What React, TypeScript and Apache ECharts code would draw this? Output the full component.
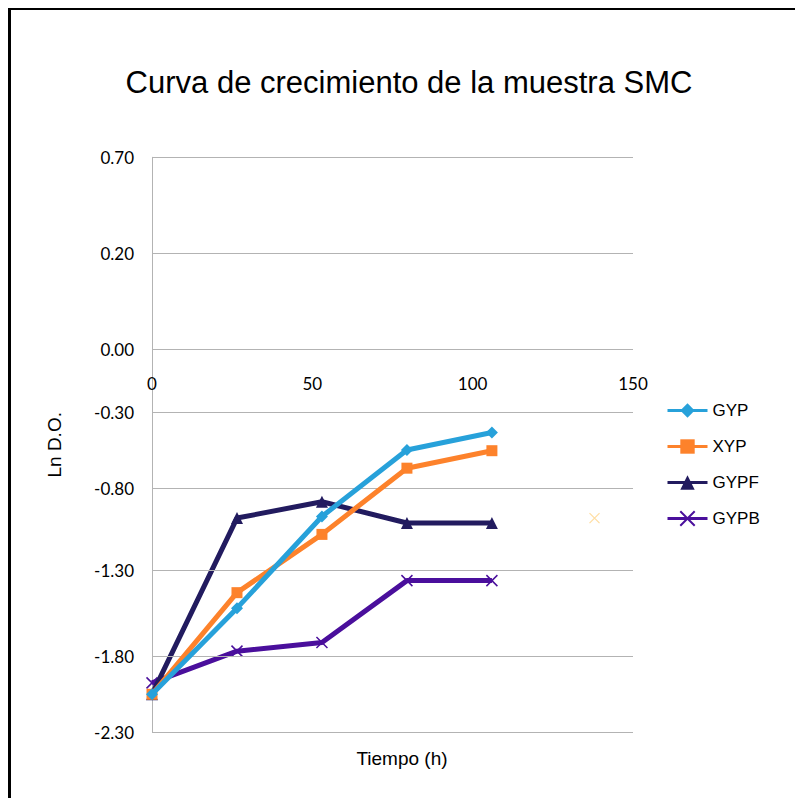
import React, { useEffect, useRef } from "react";
import * as echarts from "echarts";

// ---- Data ----
const hours = [0, 26.5, 53, 79.5, 106];
const seriesNames = ["GYP", "XYP", "GYPF", "GYPB"];
const gyp = [-2.05, -1.52, -0.97, -0.545, -0.43];
const xyp = [-2.05, -1.43, -1.08, -0.665, -0.55];
const gypf = [-2.05, -0.98, -0.88, -1.01, -1.01];
const gypb = [-1.975, -1.77, -1.72, -1.36, -1.36];
const strayHour = [138];
const strayValue = [-0.98];
const yTickValues = [0.7, 0.2, 0, -0.3, -0.8, -1.3, -1.8, -2.3];
const yTickLabels = ["0.70", "0.20", "0.00", "-0.30", "-0.80", "-1.30", "-1.80", "-2.30"];
const xTitle = "Tiempo (h)";
const yTitle = "Ln D.O.";
const chartTitle = "Curva de crecimiento de la muestra SMC";

// ---- Layout: the reference's y axis is piecewise (uneven spacing between ticks) ----
const Y_WARP = [191.7, 96, 0, -63.7, -139.7, -221.3, -307.3, -383.3];

function warp(v: number): number {
  for (let i = 0; i < yTickValues.length - 1; i++) {
    const a = yTickValues[i];
    const b = yTickValues[i + 1];
    if (v <= a && v >= b) {
      const t = (a - v) / (a - b);
      return Y_WARP[i] + t * (Y_WARP[i + 1] - Y_WARP[i]);
    }
  }
  return v > yTickValues[0] ? Y_WARP[0] : Y_WARP[Y_WARP.length - 1];
}

const COLORS = ["#27a1da", "#fd822b", "#221b5f", "#4a0f9c"];
const X_SYMBOL = "path://M0,0L10,10M0,10L10,0";

export default function App() {
  const ref = useRef<HTMLDivElement>(null);

  useEffect(() => {
    if (!ref.current) return;
    const chart = echarts.init(ref.current, null, { renderer: "svg" });
    const toPairs = (vals: number[]) => hours.map((h, i) => [h, warp(vals[i])]);
    const valueSets = [gyp, xyp, gypf, gypb];
    const symbols = ["diamond", "rect", "triangle", X_SYMBOL];
    const symbolSizes = [12, 11, 12, 11];
    const zs = [6, 5, 4, 3];

    const series: any[] = valueSets.map((vals, i) => ({
      name: seriesNames[i],
      type: "line",
      data: toPairs(vals),
      symbol: symbols[i],
      symbolSize: symbolSizes[i],
      z: zs[i],
      lineStyle: { color: COLORS[i], width: 5 },
      itemStyle:
        i === 3
          ? { color: COLORS[i], borderColor: COLORS[i], borderWidth: 1.5 }
          : { color: COLORS[i] },
      emphasis: { disabled: true },
    }));

    series.push({
      name: "extra",
      type: "line",
      data: strayHour.map((h, i) => [h, warp(strayValue[i])]),
      symbol: X_SYMBOL,
      symbolSize: 10,
      lineStyle: { width: 0 },
      itemStyle: { color: "#ffd58a", borderColor: "#ffd58a", borderWidth: 1.2, opacity: 0.8 },
      z: 2,
      markLine: {
        silent: true,
        symbol: "none",
        animation: false,
        lineStyle: { color: "#b3b3b3", width: 1, type: "solid" },
        label: {
          show: true,
          position: "start",
          distance: 18,
          color: "#000",
          fontFamily: "Lato",
          fontSize: 17,
        },
        data: yTickValues.map((v, i) => ({
          yAxis: warp(v),
          label: { formatter: yTickLabels[i] },
        })),
      },
    });

    chart.setOption({
      animation: false,
      backgroundColor: "transparent",
      title: [
        {
          text: chartTitle,
          left: 404,
          top: 62,
          textAlign: "center",
          textStyle: { fontFamily: "Liberation Sans", fontSize: 31, fontWeight: "normal", color: "#000" },
        },
        {
          text: xTitle,
          left: 397,
          top: 744,
          textAlign: "center",
          textStyle: { fontFamily: "Liberation Sans", fontSize: 19, fontWeight: "normal", color: "#000" },
        },
      ],
      legend: {
        data: seriesNames,
        orient: "vertical",
        left: 666,
        top: 402,
        padding: 0,
        itemWidth: 40,
        itemHeight: 18,
        itemGap: 19,
        lineStyle: { width: 3 },
        textStyle: { fontFamily: "Liberation Sans", fontSize: 17, color: "#000" },
      },
      grid: { left: 152, right: 162, top: 157.3, bottom: 65.7, containLabel: false },
      xAxis: {
        type: "value",
        min: 0,
        max: 150,
        interval: 50,
        position: "bottom",
        offset: Y_WARP[Y_WARP.length - 1],
        axisLine: { show: false, onZero: false },
        axisTick: { show: false },
        splitLine: { show: false },
        axisLabel: { margin: 26, color: "#000", fontFamily: "Lato", fontSize: 17 },
      },
      yAxis: {
        type: "value",
        min: Y_WARP[Y_WARP.length - 1],
        max: Y_WARP[0],
        name: yTitle,
        nameLocation: "middle",
        nameRotate: 90,
        nameGap: 88,
        nameTextStyle: { fontFamily: "Liberation Sans", fontSize: 19, color: "#000" },
        axisLine: { show: true, onZero: false, lineStyle: { color: "#b3b3b3", width: 1 } },
        axisTick: { show: false },
        axisLabel: { show: false },
        splitLine: { show: false },
      },
      series,
    });

    return () => chart.dispose();
  }, []);

  return (
    <div style={{ position: "fixed", left: 0, top: 0, width: 795, height: 798, overflow: "hidden", background: "#fff" }}>
      <div
        style={{
          position: "absolute",
          left: 8,
          top: 8,
          width: 800,
          height: 800,
          borderTop: "2.5px solid #000",
          borderLeft: "3px solid #000",
        }}
      />
      <div ref={ref} style={{ position: "absolute", left: 0, top: 0, width: 795, height: 798 }} />
    </div>
  );
}
